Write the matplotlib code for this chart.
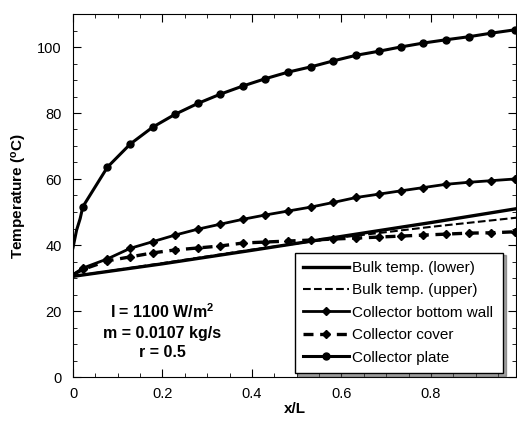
import matplotlib
matplotlib.use('Agg')
import matplotlib.pyplot as plt
from matplotlib.ticker import MultipleLocator

plt.rcParams['font.family'] = ['Liberation Sans', 'DejaVu Sans']

# x/L positions of the plotted markers
xm = [0.022, 0.077, 0.128, 0.178, 0.228, 0.279, 0.329, 0.380, 0.430, 0.481,
      0.532, 0.582, 0.633, 0.683, 0.732, 0.783, 0.834, 0.884, 0.935, 0.987]

plate = [51.6, 63.6, 70.6, 75.7, 79.6, 82.9, 85.7, 88.2, 90.4, 92.4,
         94.0, 95.8, 97.5, 98.7, 100.0, 101.2, 102.2, 103.1, 104.2, 105.2]
plate_x0 = [0.0, 0.008, 0.016]
plate_y0 = [39.2, 44.5, 48.0]

wall = [33.0, 35.8, 39.0, 41.0, 43.0, 44.8, 46.3, 47.8, 49.1, 50.3,
        51.5, 52.9, 54.4, 55.4, 56.4, 57.4, 58.4, 59.0, 59.5, 60.0]
cover = [32.6, 35.2, 36.4, 37.6, 38.5, 39.1, 39.7, 40.6, 40.9, 41.2,
         41.5, 41.8, 42.1, 42.4, 42.7, 43.0, 43.3, 43.6, 43.7, 44.0]
start_wall = 31.0

xb = [0.0, 0.2, 0.4, 0.6, 0.8, 1.0]
bulk_low = [30.5, 34.3, 38.4, 42.6, 46.8, 51.2]
bulk_up = [30.5, 34.5, 38.6, 42.3, 45.5, 48.4]

fig = plt.figure(figsize=(5.17, 4.23), dpi=100)
ax = fig.add_axes([73/517, 46/423, 443/517, 363/423])

ax.plot(xb, bulk_low, '-', color='black', lw=2.4, label='Bulk temp. (lower)')
ax.plot(xb, bulk_up, '--', color='black', lw=1.5, label='Bulk temp. (upper)')
ax.plot([0.0] + xm, [start_wall] + wall, '-', color='black', lw=2.0,
        marker='D', ms=4.5, markevery=list(range(1, len(xm) + 1)),
        label='Collector bottom wall')
ax.plot([0.0] + xm, [start_wall] + cover, '--', color='black', lw=2.4,
        marker='D', ms=4.5, markevery=list(range(1, len(xm) + 1)),
        dashes=(3, 2), label='Collector cover')
ax.plot(plate_x0 + xm, plate_y0 + plate, '-', color='black', lw=2.2,
        marker='o', ms=5, markevery=list(range(len(plate_x0), len(plate_x0) + len(xm))),
        label='Collector plate')

ax.set_xlim(0, 0.99)
ax.set_ylim(0, 110)
ax.xaxis.set_major_locator(MultipleLocator(0.2))
ax.xaxis.set_minor_locator(MultipleLocator(0.05))
ax.yaxis.set_major_locator(MultipleLocator(20))
ax.yaxis.set_minor_locator(MultipleLocator(5))
ax.tick_params(which='both', direction='in', top=True, right=True, labelsize=10.5)
ax.tick_params(which='major', length=6)
ax.tick_params(which='minor', length=3)
ax.tick_params(axis='x', pad=7)
ax.tick_params(axis='y', pad=8)
ax.set_xticks([0, 0.2, 0.4, 0.6, 0.8])
ax.set_xticklabels(['0', '0.2', '0.4', '0.6', '0.8'])

ax.set_xlabel('x/L', fontsize=11, fontweight='bold', labelpad=1)
ax.set_ylabel('Temperature ($\\mathregular{^o}$C)', fontsize=11, fontweight='bold',
              labelpad=6)

ax.text(0.2, 19.7, 'I = 1100 W/m$\\mathregular{^2}$', ha='center', va='center',
        fontsize=11.5, fontweight='bold')
ax.text(0.2, 13.3, 'm = 0.0107 kg/s', ha='center', va='center',
        fontsize=11.5, fontweight='bold')
ax.text(0.2, 7.3, 'r = 0.5', ha='center', va='center',
        fontsize=11.5, fontweight='bold')

leg = ax.legend(loc='lower left', bbox_to_anchor=(0.501, 0.011, 0.47, 0.333),
                mode='expand', fontsize=11, fancybox=False, shadow=True,
                framealpha=1, edgecolor='black', handlelength=3.0,
                handletextpad=0.2, borderaxespad=0, labelspacing=0.55,
                borderpad=0.55)
leg.get_frame().set_linewidth(1.0)

fig.savefig('out.png', dpi=100)
